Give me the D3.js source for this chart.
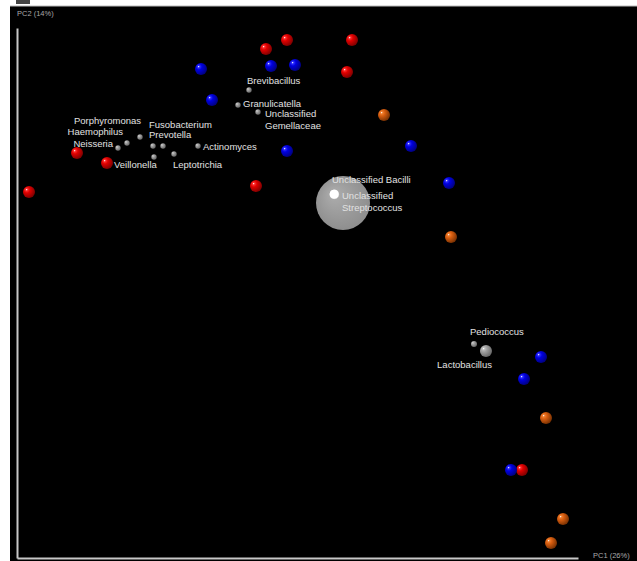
<!DOCTYPE html>
<html>
<head>
<meta charset="utf-8">
<script src="https://cdn.jsdelivr.net/npm/d3@7"></script>
<style>
  body { margin: 0; background: #fff; }
  text { font-family: "Liberation Sans", Arial, sans-serif; }
</style>
</head>
<body>
<svg id="plot" width="637" height="561"></svg>
<script>
// sample scores on PC1 / PC2 (plot units)
const redSamples = [[12, 366], [60, 405], [90, 395], [249, 509], [270, 518], [335, 518], [330, 486], [239, 372], [505, 88]]
const blueSamples = [[184, 489], [254, 492], [278, 493], [195, 458], [270, 407], [394, 412], [432, 375], [524, 201], [507, 179], [494, 88]]
const orangeSamples = [[367, 443], [434, 321], [529, 140], [546, 39], [534, 15]]

// taxa (biplot), name / pc1 / pc2 / abundance
const taxaNames = ["Brevibacillus", "Granulicatella", "Unclassified\nGemellaceae", "Porphyromonas", "Haemophilus", "Neisseria",
  "Fusobacterium", "Prevotella", "", "Leptotrichia", "Actinomyces", "Veillonella", "Unclassified Bacilli",
  "Unclassified\nStreptococcus", "Pediococcus", "Lactobacillus"]
const taxaPC1 = [232, 221, 241, 123, 110, 101, 146, 136, 137, 157, 181, 90, 317, 326, 457, 469]
const taxaPC2 = [468, 453, 446, 421, 415, 410, 412, 412, 401, 404, 412, 395, 370, 355, 214, 207]
const taxaAbund = [0.4, 0.4, 0.4, 0.4, 0.4, 0.4, 0.4, 0.4, 0.4, 0.4, 0.4, 0.4, 0.4, 40, 0.5, 2]

const xLabel = "PC1 (26%)"
const yLabel = "PC2 (14%)"

// label placement (layout only)
const labelPos = {
  "Brevibacillus": [-2, -6, "start"],
  "Granulicatella": [5, 2, "start"],
  "Unclassified\nGemellaceae": [7, 5, "start"],
  "Porphyromonas": [1, -13, "end"],
  "Haemophilus": [-4, -8, "end"],
  "Neisseria": [-5, -1, "end"],
  "Fusobacterium": [-14, -18, "start"],
  "Prevotella": [-4, -8, "start"],
  "Leptotrichia": [-1, 14, "start"],
  "Actinomyces": [5, 4, "start"],
  "Veillonella": [7, 5, "start"],
  "Unclassified Bacilli": [-2, -5, "start"],
  "Unclassified\nStreptococcus": [-1, -4, "start"],
  "Pediococcus": [-4, -9, "start"],
  "Lactobacillus": [6, 17, "end"]
}

const svg = d3.select("#plot")
const W = 637, H = 561

svg.append("rect").attr("x", 10).attr("y", 6).attr("width", W - 10).attr("height", H - 6).attr("fill", "#000")
svg.append("line").attr("x1", 10).attr("x2", W).attr("y1", 6).attr("y2", 6).attr("stroke", "#bbb").attr("stroke-width", 1)
svg.append("rect").attr("x", 16).attr("y", 0).attr("width", 14).attr("height", 4).attr("fill", "#444")

const xScale = d3.scaleLinear().domain([0, 561]).range([17, 578])
const yScale = d3.scaleLinear().domain([0, 530]).range([558, 28])
const rScale = d3.scaleSqrt().domain([0, 40]).range([0, 27])

// axes: plain lines, no ticks
const axisB = d3.axisBottom(xScale).tickValues([]).tickSizeOuter(0)
const axisL = d3.axisLeft(yScale).tickValues([]).tickSizeOuter(0)
svg.append("g").attr("transform", "translate(0," + yScale(0) + ")").call(axisB)
  .select(".domain").attr("stroke", "#c8c8c8").attr("stroke-width", 2)
svg.append("g").attr("transform", "translate(" + xScale(0) + ",0)").call(axisL)
  .select(".domain").attr("stroke", "#c8c8c8").attr("stroke-width", 2)

svg.append("text").attr("x", 593).attr("y", 558).attr("fill", "#aaa").style("font-size", "7.5px").text(xLabel)
svg.append("text").attr("x", 17).attr("y", 16).attr("fill", "#aaa").style("font-size", "7.5px").text(yLabel)

// sphere gradients
const defs = svg.append("defs")
function sphere(id, hi, mid, edge, hiStop) {
  const g = defs.append("radialGradient").attr("id", id)
    .attr("cx", "0.35").attr("cy", "0.35").attr("fx", "0.3").attr("fy", "0.3").attr("r", "0.75")
  g.append("stop").attr("offset", "0").attr("stop-color", "#fff")
  g.append("stop").attr("offset", hiStop).attr("stop-color", hi)
  g.append("stop").attr("offset", "0.35").attr("stop-color", mid)
  g.append("stop").attr("offset", "1").attr("stop-color", edge)
}
sphere("gRed", "#ff3030", "#e00000", "#700000", "0.12")
sphere("gBlue", "#3030ff", "#0000e0", "#000070", "0.12")
sphere("gOrange", "#f08030", "#d85e10", "#6a2a00", "0.12")
sphere("gGrey", "#c0c0c0", "#a0a0a0", "#606060", "0.12")
const big = defs.append("radialGradient").attr("id", "gBig")
  .attr("cx", "0.5").attr("cy", "0.5").attr("fx", "0.31").attr("fy", "0.31").attr("r", "0.6")
big.append("stop").attr("offset", "0").attr("stop-color", "#fff")
big.append("stop").attr("offset", "0.13").attr("stop-color", "#fff")
big.append("stop").attr("offset", "0.16").attr("stop-color", "#a8a8a8")
big.append("stop").attr("offset", "1").attr("stop-color", "#8a8a8a")

// taxa
const taxa = taxaNames.map(function(n, i) {
  return {name: n, pc1: taxaPC1[i], pc2: taxaPC2[i], ab: taxaAbund[i]}
})
svg.selectAll("circle.taxon")
  .data(taxa)
  .enter()
  .append("circle")
  .attr("class", "taxon")
  .attr("cx", function(d) { return xScale(d.pc1) })
  .attr("cy", function(d) { return yScale(d.pc2) })
  .attr("r", function(d) { return rScale(d.ab) })
  .attr("fill", function(d) { return d.ab > 10 ? "url(#gBig)" : "url(#gGrey)" })

const groups = [[redSamples, "gRed"], [blueSamples, "gBlue"], [orangeSamples, "gOrange"]]
groups.forEach(function(g) {
  svg.selectAll(null)
    .data(g[0])
    .enter()
    .append("circle")
    .attr("cx", function(d) { return xScale(d[0]) })
    .attr("cy", function(d) { return yScale(d[1]) })
    .attr("r", 6)
    .attr("fill", "url(#" + g[1] + ")")
})

// labels
taxa.filter(function(d) { return d.name !== "" }).forEach(function(d) {
  const p = labelPos[d.name]
  const t = svg.append("text")
    .attr("x", xScale(d.pc1) + p[0])
    .attr("y", yScale(d.pc2) + p[1])
    .attr("text-anchor", p[2])
    .attr("fill", "#e2e2e2")
    .style("font-size", "9.5px")
  d.name.split("\n").forEach(function(line, i) {
    t.append("tspan").attr("x", xScale(d.pc1) + p[0]).attr("dy", i === 0 ? 0 : 12).text(line)
  })
})
</script>
</body>
</html>
